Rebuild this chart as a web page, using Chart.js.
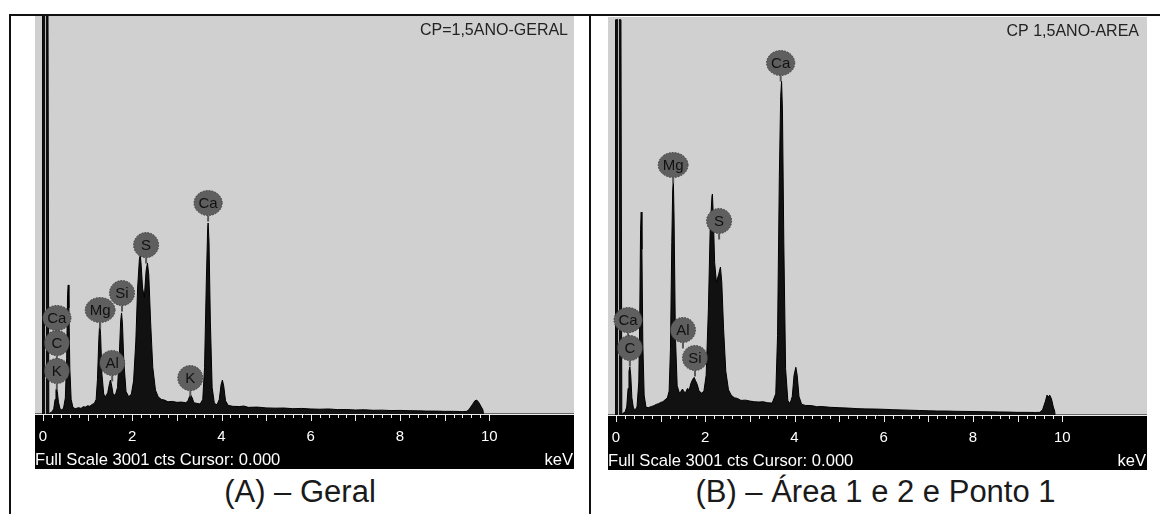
<!DOCTYPE html>
<html>
<head>
<meta charset="utf-8">
<script src="https://cdn.jsdelivr.net/npm/chart.js@4/dist/chart.umd.min.js"></script>
<style>
  body { margin: 0; background: #fff; width: 1163px; height: 514px; position: relative; overflow: hidden;
         font-family: "Liberation Sans", Arial, sans-serif; }
  .rule { position: absolute; background: #111; }
  canvas { position: absolute; }
  .cap { position: absolute; top: 476px; font-size: 31px; line-height: 31px; color: #1a1a1a;
         text-align: center; white-space: nowrap; }
</style>
</head>
<body>
<div class="rule" style="left:9px;top:14px;width:1151px;height:2px"></div>
<div class="rule" style="left:9px;top:14px;width:2px;height:500px"></div>
<div class="rule" style="left:589px;top:14px;width:2px;height:500px"></div>

<canvas id="specA" width="539" height="453" style="left:35px;top:16px"></canvas>
<canvas id="specB" width="539" height="453" style="left:608px;top:17px"></canvas>

<div class="cap" style="left:11px;width:578px">(A) – Geral</div>
<div class="cap" style="left:591px;width:569px">(B) – Área 1 e 2 e Ponto 1</div>

<script>
// EDS spectra, energy in keV / counts
const fullScale = 3001;
const keVTicks = [0, 2, 4, 6, 8, 10];

const spectrumA = [
  [-0.18, 0], [-0.02, 0], [-0.01, 3200], [0.11, 3200], [0.13, 0], [0.16, 10], [0.2, 15],
  [0.24, 40], [0.27, 110], [0.29, 180], [0.305, 196], [0.32, 170], [0.345, 90], [0.38, 40],
  [0.42, 30], [0.46, 45], [0.5, 120], [0.53, 420], [0.55, 900], [0.565, 973], [0.58, 800],
  [0.6, 350], [0.63, 110], [0.67, 50], [0.72, 40], [0.8, 48], [0.85, 42], [0.9, 55],
  [0.95, 52], [1.0, 62], [1.05, 58], [1.1, 72], [1.15, 80], [1.19, 110], [1.22, 260],
  [1.25, 560], [1.27, 686], [1.29, 600], [1.32, 300], [1.36, 150], [1.4, 130], [1.45, 160],
  [1.49, 230], [1.51, 256], [1.53, 230], [1.57, 150], [1.62, 140], [1.67, 200], [1.71, 450],
  [1.74, 700], [1.76, 762], [1.78, 680], [1.81, 400], [1.86, 170], [1.92, 130], [1.98, 150],
  [2.03, 250], [2.08, 550], [2.12, 950], [2.16, 1170], [2.18, 1199], [2.2, 1120], [2.23, 950],
  [2.27, 880], [2.31, 1080], [2.34, 1139], [2.37, 1050], [2.41, 700], [2.46, 350], [2.52, 180],
  [2.58, 130], [2.65, 110], [2.72, 105], [2.8, 92], [2.9, 95], [3.0, 88], [3.1, 90], [3.2, 85],
  [3.25, 100], [3.29, 138], [3.31, 143], [3.34, 125], [3.38, 85], [3.45, 80], [3.52, 75],
  [3.58, 110], [3.62, 350], [3.66, 1000], [3.69, 1400], [3.7, 1440], [3.72, 1300], [3.75, 700],
  [3.79, 200], [3.84, 80], [3.9, 70], [3.95, 110], [3.99, 220], [4.02, 256], [4.05, 210],
  [4.09, 100], [4.15, 65], [4.25, 58], [4.4, 56], [4.5, 60], [4.6, 50], [4.8, 52], [5.0, 46],
  [5.2, 44], [5.4, 45], [5.6, 40], [5.8, 42], [6.0, 38], [6.2, 36], [6.4, 38], [6.6, 33],
  [6.8, 34], [7.0, 30], [7.2, 32], [7.4, 28], [7.6, 29], [7.8, 26], [8.0, 27], [8.2, 25],
  [8.4, 24], [8.6, 22], [8.8, 22], [9.0, 20], [9.2, 20], [9.4, 18], [9.5, 20], [9.55, 35],
  [9.62, 70], [9.68, 100], [9.72, 105], [9.76, 90], [9.82, 55], [9.86, 30], [9.87, 0], [11.9, 0]
];

const spectrumB = [
  [-0.18, 0], [-0.02, 0], [-0.01, 2980], [0.11, 2980], [0.13, 0], [0.16, 15], [0.2, 20],
  [0.24, 60], [0.27, 200], [0.29, 330], [0.31, 362], [0.33, 300], [0.355, 130], [0.39, 50],
  [0.43, 40], [0.47, 60], [0.51, 250], [0.53, 700], [0.55, 1400], [0.565, 1530], [0.58, 1250],
  [0.6, 550], [0.63, 150], [0.67, 60], [0.72, 55], [0.8, 65], [0.85, 70], [0.9, 80],
  [0.95, 85], [1.0, 95], [1.05, 100], [1.1, 115], [1.15, 128], [1.19, 180], [1.22, 500],
  [1.25, 1300], [1.27, 1700], [1.285, 1765], [1.3, 1500], [1.33, 600], [1.37, 220], [1.42, 165],
  [1.46, 180], [1.49, 196], [1.52, 175], [1.56, 170], [1.6, 200], [1.64, 190], [1.68, 240],
  [1.72, 270], [1.75, 283], [1.78, 260], [1.82, 230], [1.86, 180], [1.92, 165], [1.97, 180],
  [2.02, 300], [2.07, 800], [2.11, 1400], [2.15, 1650], [2.16, 1666], [2.18, 1500], [2.21, 1150],
  [2.25, 1000], [2.3, 1060], [2.34, 1116], [2.37, 1000], [2.41, 650], [2.46, 330], [2.52, 190],
  [2.58, 150], [2.65, 130], [2.72, 125], [2.8, 110], [2.9, 112], [3.0, 105], [3.1, 100],
  [3.2, 98], [3.3, 100], [3.4, 92], [3.5, 90], [3.58, 160], [3.62, 600], [3.66, 1800],
  [3.69, 2400], [3.71, 2518], [3.73, 2300], [3.76, 1300], [3.8, 350], [3.85, 110], [3.9, 85],
  [3.95, 140], [3.99, 300], [4.03, 360], [4.06, 300], [4.1, 140], [4.16, 80], [4.25, 72],
  [4.4, 70], [4.5, 62], [4.6, 64], [4.8, 58], [5.0, 55], [5.2, 52], [5.4, 48], [5.6, 46],
  [5.8, 45], [6.0, 43], [6.2, 40], [6.4, 38], [6.6, 36], [6.8, 34], [7.0, 32], [7.2, 30],
  [7.4, 30], [7.6, 28], [7.8, 27], [8.0, 26], [8.2, 25], [8.4, 24], [8.6, 23], [8.8, 22],
  [9.0, 20], [9.2, 20], [9.4, 19], [9.5, 20], [9.56, 40], [9.62, 100], [9.66, 150], [9.69, 135],
  [9.72, 150], [9.76, 120], [9.8, 60], [9.83, 30], [9.84, 0], [11.9, 0]
];

// peak markers: element, energy of the marker, height of the marker centre
const elementsA = ['Ca', 'C', 'K', 'Mg', 'Al', 'Si', 'S', 'K', 'Ca'];
const elemKeVA  = [0.31, 0.31, 0.31, 1.28, 1.55, 1.77, 2.31, 3.30, 3.70];
const elemCtsA  = [724, 535, 324, 784, 385, 912, 1274, 271, 1591];

const elementsB = ['Ca', 'C', 'Mg', 'Al', 'Si', 'S', 'Ca'];
const elemKeVB  = [0.27, 0.31, 1.28, 1.50, 1.77, 2.31, 3.69];
const elemCtsB  = [716, 505, 1885, 641, 430, 1463, 2654];

const sampleA = 'CP=1,5ANO-GERAL';
const sampleB = 'CP 1,5ANO-AREA';

const FONT = '"Liberation Sans", Arial, sans-serif';

const edsFrame = {
  id: 'edsFrame',
  beforeDraw(chart) {
    const {ctx, chartArea: a, width, height} = chart;
    ctx.save();
    ctx.fillStyle = '#000';
    ctx.fillRect(0, a.bottom, width, height - a.bottom);
    ctx.fillStyle = '#d0d0d0';
    ctx.fillRect(0, a.top, width, a.bottom - a.top);
    ctx.restore();
  },
  afterDatasetsDraw(chart, args, opts) {
    const {ctx, chartArea: a} = chart;
    const xs = chart.scales.x, ys = chart.scales.y;
    ctx.save();
    // cursor at 0.000 keV
    const cx = Math.round(xs.getPixelForValue(0.05)) + 0.5;
    ctx.strokeStyle = 'rgba(200,200,200,0.9)';
    ctx.lineWidth = 1;
    ctx.beginPath(); ctx.moveTo(cx, a.top); ctx.lineTo(cx, a.bottom); ctx.stroke();

    ctx.font = '15px ' + FONT;
    ctx.textAlign = 'center';
    ctx.textBaseline = 'middle';
    opts.names.forEach((n, i) => {
      const x = xs.getPixelForValue(opts.kev[i]);
      const y = ys.getPixelForValue(opts.cts[i]);
      const rx = Math.max(12.5, ctx.measureText(n).width / 2 + 4.5);
      const ry = 12.5;
      ctx.strokeStyle = '#5a5a5a';
      ctx.lineWidth = 2;
      ctx.beginPath(); ctx.moveTo(x, y + ry); ctx.lineTo(x, y + ry + 6); ctx.stroke();
      ctx.beginPath(); ctx.ellipse(x, y, rx, ry, 0, 0, Math.PI * 2);
      ctx.fillStyle = '#5f5f5f';
      ctx.fill();
      ctx.setLineDash([1.5, 1.5]);
      ctx.lineWidth = 1;
      ctx.strokeStyle = '#3c3c3c';
      ctx.stroke();
      ctx.setLineDash([]);
      ctx.fillStyle = '#111';
      ctx.fillText(n, x, y + 1);
    });
    ctx.restore();
  },
  afterDraw(chart, args, opts) {
    const {ctx, chartArea: a, width} = chart;
    const xs = chart.scales.x;
    ctx.save();
    // baseline and keV ticks
    ctx.strokeStyle = '#eee';
    ctx.lineWidth = 1;
    ctx.beginPath(); ctx.moveTo(0, a.bottom + 0.5); ctx.lineTo(width, a.bottom + 0.5); ctx.stroke();
    xs.ticks.forEach(t => {
      const x = Math.round(xs.getPixelForValue(t.value)) + 0.5;
      const major = Math.abs(t.value - Math.round(t.value)) < 1e-6;
      ctx.beginPath(); ctx.moveTo(x, a.bottom + 1); ctx.lineTo(x, a.bottom + (major ? 7 : 4)); ctx.stroke();
    });
    ctx.fillStyle = '#fff';
    ctx.font = '16.6px ' + FONT;
    ctx.textBaseline = 'alphabetic';
    ctx.textAlign = 'left';
    ctx.fillText('Full Scale ' + fullScale + ' cts Cursor: 0.000', 0, a.bottom + 51);
    ctx.textAlign = 'right';
    ctx.fillText('keV', width - 1, a.bottom + 51);
    // sample name, top right of the plot
    ctx.fillStyle = '#222';
    ctx.font = '16px ' + FONT;
    ctx.fillText(opts.sample, a.right - opts.inset, a.top + 19);
    ctx.restore();
  }
};

function drawSpectrum(id, spectrum, names, kev, cts, sample, inset) {
  new Chart(document.getElementById(id), {
    type: 'line',
    data: {
      datasets: [{
        data: spectrum.map(p => ({x: p[0], y: p[1]})),
        borderColor: '#000',
        borderWidth: 1,
        backgroundColor: '#111',
        fill: 'origin',
        pointRadius: 0,
        tension: 0
      }]
    },
    options: {
      responsive: false,
      animation: false,
      devicePixelRatio: 1,
      layout: { padding: 0 },
      plugins: {
        legend: { display: false },
        tooltip: { enabled: false },
        edsFrame: { names: names, kev: kev, cts: cts, sample: sample, inset: inset }
      },
      scales: {
        x: {
          type: 'linear',
          min: -0.18,
          max: 11.9,
          afterFit: s => {
            s.height = 55;
            s.paddingLeft = 0;
            s.paddingRight = 0;
          },
          afterBuildTicks: s => { s.ticks = s.ticks.filter(t => t.value > -1e-6 && t.value < 10 + 1e-6); },
          grid: { display: true, drawOnChartArea: false, drawTicks: false },
          border: { display: false },
          ticks: {
            stepSize: 0.2,
            includeBounds: false,
            autoSkip: false,
            maxRotation: 0,
            padding: 14,
            color: '#fff',
            font: { family: FONT, size: 15 },
            callback: v => {
              const k = keVTicks.find(t => Math.abs(t - v) < 1e-6);
              return k === undefined ? '' : String(k);
            }
          }
        },
        y: { display: false, min: 0, max: fullScale }
      }
    },
    plugins: [edsFrame]
  });
}

drawSpectrum('specA', spectrumA, elementsA, elemKeVA, elemCtsA, sampleA, 6);
drawSpectrum('specB', spectrumB, elementsB, elemKeVB, elemCtsB, sampleB, 8);
</script>
</body>
</html>
